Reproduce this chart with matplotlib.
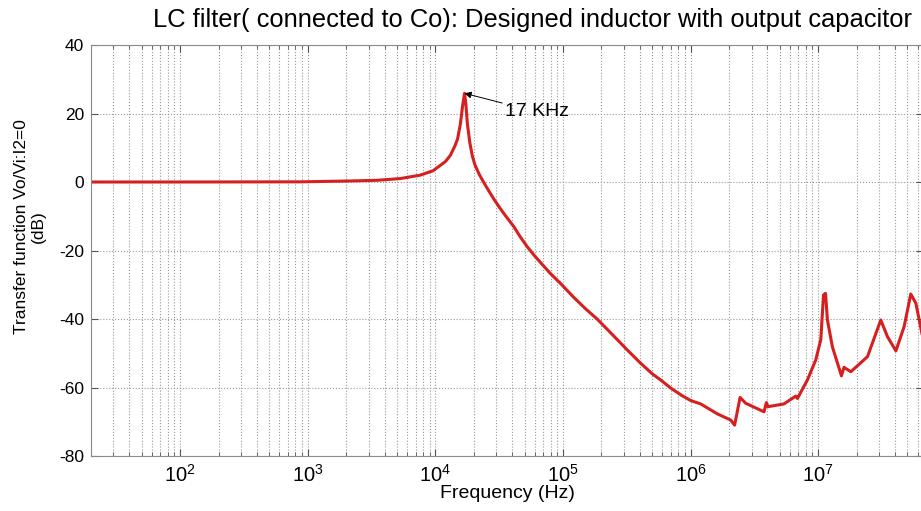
import matplotlib
matplotlib.use("Agg")
import matplotlib.pyplot as plt
from matplotlib.ticker import FixedLocator, LogLocator, NullFormatter

plt.rcParams['font.family'] = ['Liberation Sans', 'DejaVu Sans']
plt.rcParams['mathtext.fontset'] = 'custom'
plt.rcParams['mathtext.rm'] = 'Liberation Sans'
plt.rcParams['mathtext.it'] = 'Liberation Sans'
plt.rcParams['axes.unicode_minus'] = False

# Frequency (Hz) and transfer function magnitude (dB)
freq_hz = [20, 100, 871, 2150, 3500, 5300, 7600, 9600, 12000, 13100, 14200,
           14900, 15700, 16300, 16900, 17300, 17800, 18600, 19500, 20400,
           22000, 23800, 26000, 28600, 32000, 35500, 41100, 46000, 52400,
           60000, 70000, 80000, 95500, 120000, 150000, 185000, 240000,
           318000, 400000, 500000, 582000, 700000, 850000, 1000000, 1200000,
           1620000, 2060000, 2210000, 2440000, 2700000, 3760000, 3920000,
           4040000, 5380000, 6670000, 6870000, 8220000, 9550000, 1.047e7,
           1.099e7, 1.14e7, 1.18e7, 1.29e7, 1.52e7, 1.59e7, 1.80e7, 2.43e7,
           3.09e7, 3.49e7, 4.06e7, 4.71e7, 5.31e7, 5.82e7, 6.49e7]
gain_db = [0.0, 0.0, 0.05, 0.3, 0.5, 1.0, 2.0, 3.3, 6.0, 7.8, 10.5,
           12.5, 17.0, 22.0, 25.9, 23.0, 17.0, 11.5, 7.5, 5.0,
           2.3, 0.0, -2.4, -4.9, -7.6, -9.9, -13.0, -15.9, -18.9,
           -21.6, -24.4, -26.8, -29.6, -33.5, -37.0, -40.0, -44.3,
           -49.0, -52.7, -56.0, -57.8, -60.2, -62.3, -63.8, -64.8,
           -67.7, -69.5, -71.0, -62.9, -64.6, -67.1, -64.4,
           -65.6, -64.8, -62.5, -63.2, -57.8, -52.0, -46.0,
           -33.0, -32.5, -40.3, -48.1, -56.6, -54.1, -55.4, -51.0,
           -40.3, -45.2, -49.3, -42.2, -32.7, -35.4, -44.2]

x_ticks = [1e2, 1e3, 1e4, 1e5, 1e6, 1e7]
x_tick_labels = ['$10^{2}$', '$10^{3}$', '$10^{4}$', '$10^{5}$', '$10^{6}$', '$10^{7}$']
y_ticks = [-80, -60, -40, -20, 0, 20, 40]

peak_label = "17 KHz"
peak_freq = 16900
peak_db = 25.9

fig = plt.figure(figsize=(9.21, 5.11), dpi=100)
ax = fig.add_axes([91/921, 1-456/511, (921-91)/921 + 0.002, (456-45)/511])

ax.semilogx(freq_hz, gain_db, color='#d61f1f', linewidth=2.2)

ax.set_xlim(20, 6.6e7)
ax.set_ylim(-80, 40)
ax.set_yticks(y_ticks)
ax.xaxis.set_major_locator(FixedLocator(x_ticks))
ax.set_xticklabels(x_tick_labels)
ax.xaxis.set_minor_locator(LogLocator(base=10, subs=range(2, 10), numticks=100))
ax.xaxis.set_minor_formatter(NullFormatter())

ax.grid(True, which='major', axis='both', linestyle=':', color='#9a9a9a', linewidth=0.8)
ax.grid(True, which='minor', axis='x', linestyle=':', color='#9a9a9a', linewidth=0.8)

for s in ax.spines.values():
    s.set_color('#8a8a8a')
ax.tick_params(which='both', direction='in', top=True, right=True, color='#555555')
ax.tick_params(which='major', length=5)
ax.tick_params(which='minor', length=3)
ax.tick_params(axis='y', which='major', labelsize=12.5, pad=5)
ax.tick_params(axis='x', which='major', labelsize=14.5, pad=6)

ax.annotate(peak_label, xy=(peak_freq, peak_db), xytext=(505/921, 1-112/511),
            textcoords='figure fraction', fontsize=14, va='center', ha='left',
            arrowprops=dict(arrowstyle='-|>', color='black', lw=0.7,
                            mutation_scale=10, shrinkA=0, shrinkB=0))

fig.text(532/921, 1-20/511, "LC filter( connected to Co): Designed inductor with output capacitor",
         ha='center', va='center', fontsize=18.4)
fig.text(507/921, 1-494/511, "Frequency (Hz)", ha='center', va='center', fontsize=14)
fig.text(30/921, 1-227/511, "Transfer function Vo/Vi:I2=0\n(dB)", ha='center', va='center',
         rotation=90, fontsize=12.5, multialignment='center', linespacing=1.2)

fig.savefig("out.png", dpi=100)
